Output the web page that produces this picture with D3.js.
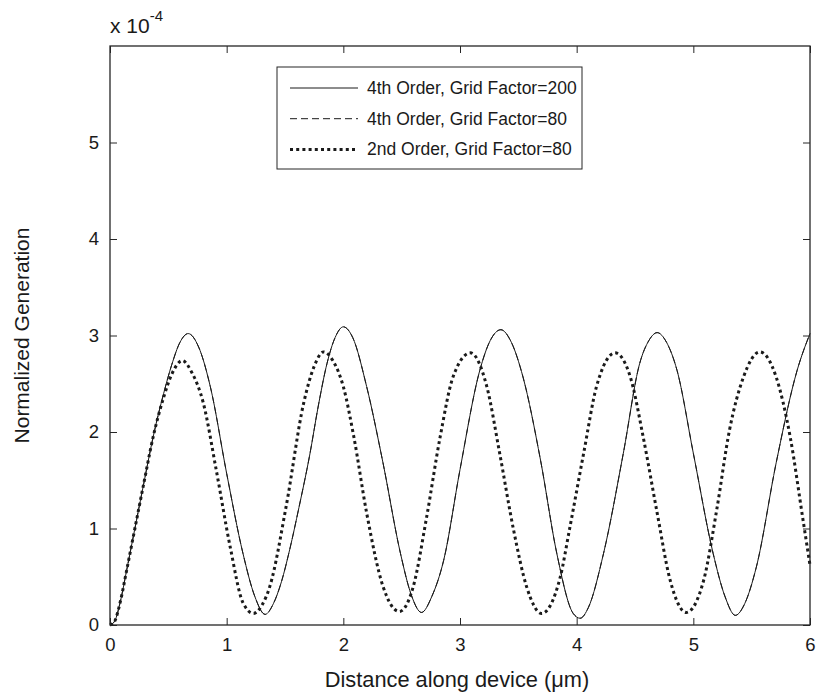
<!DOCTYPE html>
<html>
<head>
<meta charset="utf-8">
<script src="https://cdn.jsdelivr.net/npm/d3@7"></script>
<style>
  body { margin: 0; background: #fff; }
  text { font-family: "Liberation Sans", Arial, sans-serif; fill: #1a1a1a; }
</style>
</head>
<body>
<script>
var svgWidth = 816;
var svgHeight = 698;

var chartMargin = { top: 46, right: 6, bottom: 73, left: 110 };

var chartWidth = svgWidth - chartMargin.left - chartMargin.right;
var chartHeight = svgHeight - chartMargin.top - chartMargin.bottom;

// tick labels
var xTicks = [0, 1, 2, 3, 4, 5, 6];
var yTicks = [0, 1, 2, 3, 4, 5];

// series names (legend order)
var seriesNames = ["4th Order, Grid Factor=200", "4th Order, Grid Factor=80", "2nd Order, Grid Factor=80"];

// 4th order, grid factor 200 (generation in units of 1e-4)
var order4Gf200X = [0.00, 0.04, 0.09, 0.14, 0.21, 0.29, 0.37, 0.46, 0.53, 0.60, 0.67, 0.76, 0.86, 1.00, 1.14, 1.24,
  1.33, 1.40, 1.47, 1.54, 1.62, 1.71, 1.79, 1.86, 1.93, 2.00, 2.08, 2.20, 2.34, 2.49, 2.58, 2.67, 2.76, 2.86,
  3.00, 3.17, 3.26, 3.35, 3.44, 3.54, 3.69, 3.83, 3.97, 4.03, 4.10, 4.23, 4.40, 4.54, 4.62, 4.69, 4.77, 4.86,
  5.00, 5.17, 5.27, 5.36, 5.44, 5.54, 5.71, 5.89, 6.00];
var order4Gf200Y = [0.00, 0.04, 0.25, 0.55, 0.98, 1.47, 1.95, 2.40, 2.70, 2.93, 3.02, 2.88, 2.47, 1.57, 0.74, 0.30,
  0.11, 0.22, 0.45, 0.78, 1.22, 1.75, 2.30, 2.71, 2.98, 3.09, 2.98, 2.47, 1.68, 0.74, 0.32, 0.13, 0.30, 0.67,
  1.61, 2.64, 2.95, 3.06, 2.93, 2.57, 1.71, 0.74, 0.12, 0.07, 0.18, 0.74, 1.78, 2.71, 2.95, 3.03, 2.93, 2.64,
  1.78, 0.74, 0.30, 0.10, 0.22, 0.60, 1.68, 2.64, 3.02];

// 4th order, grid factor 80: lies on top of the grid factor 200 curve
var order4Gf80X = order4Gf200X.slice();
var order4Gf80Y = order4Gf200Y.slice();

// 2nd order, grid factor 80
var order2Gf80X = [0.00, 0.04, 0.09, 0.14, 0.21, 0.29, 0.37, 0.46, 0.53, 0.62, 0.70, 0.80, 0.91, 1.03, 1.14, 1.23,
  1.30, 1.37, 1.51, 1.66, 1.75, 1.83, 1.91, 2.00, 2.09, 2.20, 2.34, 2.48, 2.60, 2.71, 2.83, 2.94, 3.09, 3.23,
  3.34, 3.46, 3.57, 3.70, 3.86, 3.94, 4.06, 4.17, 4.33, 4.46, 4.57, 4.69, 4.80, 4.94, 5.09, 5.20, 5.31, 5.43,
  5.57, 5.71, 5.83, 5.94, 6.00];
var order2Gf80Y = [0.00, 0.04, 0.25, 0.55, 0.98, 1.47, 1.95, 2.36, 2.60, 2.74, 2.62, 2.30, 1.61, 0.81, 0.23, 0.12,
  0.20, 0.40, 1.23, 2.30, 2.68, 2.83, 2.74, 2.47, 1.95, 1.16, 0.40, 0.14, 0.40, 1.09, 1.95, 2.57, 2.82, 2.47,
  1.78, 0.98, 0.40, 0.12, 0.50, 1.00, 1.78, 2.47, 2.82, 2.57, 1.95, 1.16, 0.47, 0.13, 0.47, 1.19, 2.02, 2.57,
  2.83, 2.57, 1.95, 1.09, 0.62];

var lineStyles = [
  { width: 1, dash: null },
  { width: 1, dash: "7,4" },
  { width: 3, dash: "3,3.2" }
];

function zipPoints(xs, ys) {
  return xs.map(function(x, i) { return { x: x, y: ys[i] }; });
}

var allSeries = [
  zipPoints(order4Gf80X, order4Gf80Y),
  zipPoints(order2Gf80X, order2Gf80Y),
  zipPoints(order4Gf200X, order4Gf200Y)
];
var drawStyles = [lineStyles[1], lineStyles[2], lineStyles[0]];

var svg = d3.select("body")
  .append("svg")
  .attr("width", svgWidth)
  .attr("height", svgHeight);

var chartGroup = svg.append("g")
  .attr("transform", `translate(${chartMargin.left}, ${chartMargin.top})`);

var xLinearScale = d3.scaleLinear().domain([0, 6]).range([0, chartWidth]);
var yLinearScale = d3.scaleLinear().domain([0, 6]).range([chartHeight, 0]);

// curves
var lineGen = d3.line()
  .x(d => xLinearScale(d.x))
  .y(d => yLinearScale(d.y))
  .curve(d3.curveMonotoneX);

allSeries.forEach(function(points, i) {
  chartGroup.append("path")
    .attr("d", lineGen(points))
    .attr("fill", "none")
    .attr("stroke", "#1a1a1a")
    .attr("stroke-width", drawStyles[i].width)
    .attr("stroke-dasharray", drawStyles[i].dash);
});

// axes with inward ticks
var tickLen = 7;
var bottomAxis = d3.axisBottom(xLinearScale).tickValues(xTicks).tickSize(-tickLen).tickPadding(tickLen + 6).tickFormat(d3.format("d"));
var topAxis = d3.axisTop(xLinearScale).tickValues(xTicks).tickSize(-tickLen).tickFormat("");
var leftAxis = d3.axisLeft(yLinearScale).tickValues(yTicks).tickSize(-tickLen).tickPadding(tickLen + 4).tickFormat(d3.format("d"));
var rightAxis = d3.axisRight(yLinearScale).tickValues(yTicks).tickSize(-tickLen).tickFormat("");

var xAxis = chartGroup.append("g").attr("transform", `translate(0, ${chartHeight})`).call(bottomAxis);
chartGroup.append("g").call(topAxis);
chartGroup.append("g").call(leftAxis);
chartGroup.append("g").attr("transform", `translate(${chartWidth}, 0)`).call(rightAxis);

chartGroup.selectAll(".domain").remove();
chartGroup.selectAll(".tick line").attr("stroke", "#262626").attr("stroke-width", 1);
chartGroup.selectAll(".tick text").style("font-size", "18.5px").attr("fill", "#1a1a1a");

chartGroup.append("rect")
  .attr("width", chartWidth)
  .attr("height", chartHeight)
  .attr("fill", "none")
  .attr("stroke", "#262626")
  .attr("stroke-width", 1.3);

// exponent label
var expText = svg.append("text")
  .attr("x", chartMargin.left)
  .attr("y", 33)
  .style("font-size", "21px")
  .text("x 10");
expText.append("tspan")
  .attr("dy", -12)
  .style("font-size", "15px")
  .text("-4");

// axis labels
svg.append("text")
  .attr("x", chartMargin.left + chartWidth / 2 - 3)
  .attr("y", 687)
  .attr("text-anchor", "middle")
  .style("font-size", "21.8px")
  .text("Distance along device (\u03bcm)");

svg.append("text")
  .attr("transform", `translate(29, ${chartMargin.top + chartHeight / 2}) rotate(-90)`)
  .attr("text-anchor", "middle")
  .style("font-size", "21px")
  .text("Normalized Generation");

// legend
var legend = svg.append("g").attr("transform", "translate(277, 67)");
legend.append("rect")
  .attr("width", 305)
  .attr("height", 102)
  .attr("fill", "#fff")
  .attr("stroke", "#262626")
  .attr("stroke-width", 1);

seriesNames.forEach(function(name, i) {
  var yRow = 21 + i * 30.7;
  legend.append("line")
    .attr("x1", 13).attr("x2", 81)
    .attr("y1", yRow).attr("y2", yRow)
    .attr("stroke", "#1a1a1a")
    .attr("stroke-width", lineStyles[i].width)
    .attr("stroke-dasharray", lineStyles[i].dash);
  legend.append("text")
    .attr("x", 90)
    .attr("y", yRow + 6)
    .style("font-size", "17.5px")
    .text(name);
});
</script>
</body>
</html>
